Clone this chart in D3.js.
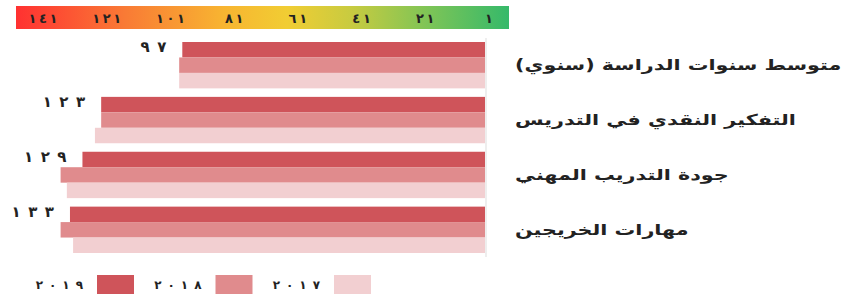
<!DOCTYPE html>
<html>
	<head>
		<meta charset="utf-8" />
		<title>Ranking</title>
		<style type="text/css">
			body { margin: 0; background: #fff; }
			svg text { font-family: "DejaVu Sans", sans-serif; font-weight: bold; fill: #222; white-space: pre; }
		</style>
	</head>
	<body>
		<svg width="862" height="296"></svg>

		<script type="text/javascript" src="https://cdn.jsdelivr.net/npm/d3@7"></script>
		<script type="text/javascript">
			// data
			var categories = ["متوسط سنوات الدراسة (سنوي)", "التفكير النقدي في التدريس", "جودة التدريب المهني", "مهارات الخريجين"];
			var years = ["2019", "2018", "2017"];
			var values2019 = [97, 123, 129, 133];
			var values2018 = [98, 123, 136, 136];
			var values2017 = [98, 125, 134, 132];
			var rankTicks = [1, 21, 41, 61, 81, 101, 121, 141];

			var seriesValues = [values2019, values2018, values2017];
			var colors = ["#cf545a", "#e08b8d", "#f2cfd1"];

			// arabic-indic digits, spaced out (letter-spacing is ignored for arabic script)
			// LRM marks keep the digit order left-to-right around the spaces
			var arDigits = "٠١٢٣٤٥٦٧٨٩";
			function ar(v, sep) {
				var glue = sep ? "\u200E" + sep + "\u200E" : "";
				return String(v).split("").map(function(c) { return arDigits[+c]; }).join(glue);
			}

			var svg = d3.select("svg");

			/**
			 * gradient scale bar
			 * */
			var defs = svg.append("defs");
			var grad = defs.append("linearGradient").attr("id", "rank");
			[[0, "#ff3131"], [0.22, "#f97a35"], [0.42, "#f8b431"], [0.55, "#f1cd33"], [0.68, "#c8cb40"], [0.84, "#7cc457"], [1, "#35b96a"]]
				.forEach(function(s) {
					grad.append("stop").attr("offset", s[0]).attr("stop-color", s[1]);
				});

			svg.append("rect")
				.attr("x", 16).attr("y", 6)
				.attr("width", 493).attr("height", 23)
				.attr("fill", "url(#rank)");

			var tickX = d3.scaleLinear().domain([1, 141]).range([489, 43]);

			svg.selectAll(".tick-label")
				.data(rankTicks)
				.enter().append("text")
				.attr("class", "tick-label")
				.attr("x", function(d) { return tickX(d); })
				.attr("y", 18)
				.attr("dy", "0.35em")
				.attr("text-anchor", "middle")
				.style("font-size", "13px")
				.text(function(d) { return ar(d, "\u2009"); });

			/**
			 * bars
			 * */
			var x = d3.scaleLinear().domain([0, 141]).range([485, 45]);
			var y = d3.scaleBand().domain(categories).range([42, 253]).paddingInner(0.155);
			var ySub = d3.scaleBand().domain(years).range([0, y.bandwidth()]);

			svg.append("line")
				.attr("x1", x(0) + 1).attr("x2", x(0) + 1)
				.attr("y1", 38).attr("y2", 257)
				.attr("stroke", "#ddd");

			var group = svg.selectAll(".cat")
				.data(categories)
				.enter().append("g")
				.attr("class", "cat")
				.attr("transform", function(d) { return "translate(0," + y(d) + ")"; });

			group.selectAll("rect")
				.data(function(d, i) {
					return years.map(function(yr, j) { return { year: yr, value: seriesValues[j][i], idx: j }; });
				})
				.enter().append("rect")
				.attr("x", function(d) { return x(d.value); })
				.attr("y", function(d) { return ySub(d.year); })
				.attr("width", function(d) { return x(0) - x(d.value); })
				.attr("height", ySub.bandwidth())
				.attr("fill", function(d) { return colors[d.idx]; });

			// value label (2019)
			group.append("text")
				.attr("x", function(d, i) { return x(values2019[i]) - 16; })
				.attr("y", ySub("2019") + ySub.bandwidth() / 2)
				.attr("dy", "0.15em")
				.attr("text-anchor", "end")
				.style("font-size", "15px")
				.text(function(d, i) { return ar(values2019[i], "\u2002"); });

			// category labels, widened to match the original face
			group.append("text")
				.attr("transform", "translate(515," + (y.bandwidth() / 2) + ") scale(1.38,1)")
				.attr("dy", "0.35em")
				.attr("text-anchor", "start")
				.style("font-size", "15px")
				.text(function(d) { return d; });

			/**
			 * legend
			 * */
			var lx = d3.scalePoint().domain(years).range([97, 334]);

			var legend = svg.selectAll(".legend")
				.data(years)
				.enter().append("g")
				.attr("class", "legend")
				.attr("transform", function(d) { return "translate(" + lx(d) + ",275)"; });

			legend.append("rect")
				.attr("width", 37).attr("height", 19)
				.attr("fill", function(d, i) { return colors[i]; });

			legend.append("text")
				.attr("x", -14)
				.attr("y", 10)
				.attr("dy", "0.35em")
				.attr("text-anchor", "end")
				.style("font-size", "12px")
				.text(function(d) { return ar(d, "\u2002"); });
		</script>
	</body>
</html>
